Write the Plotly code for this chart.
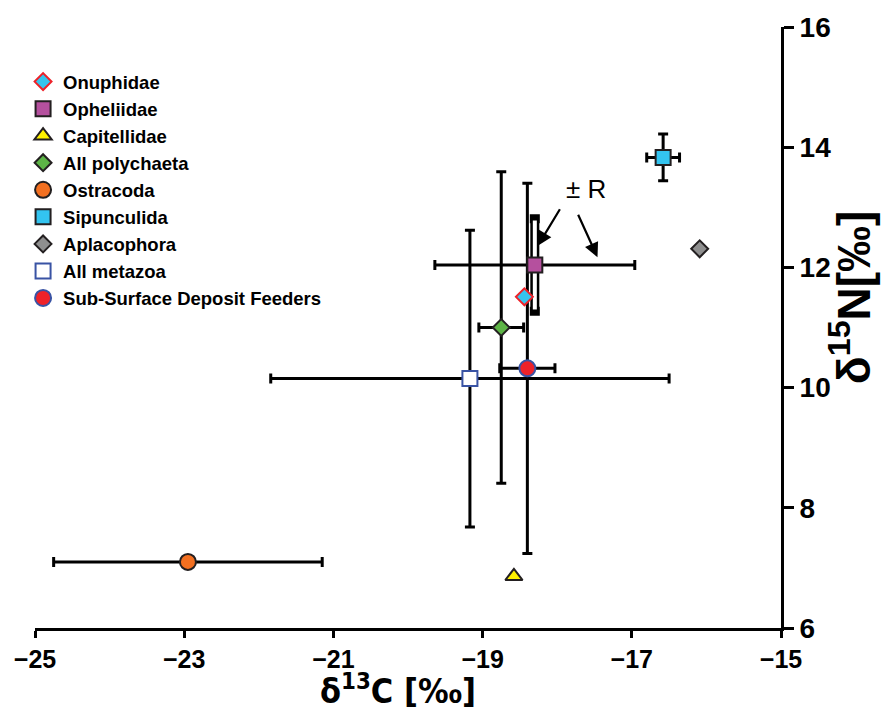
import plotly.graph_objects as go

# ---- data ----
names = ["Onuphidae", "Opheliidae", "Capitellidae", "All polychaeta", "Ostracoda",
         "Sipunculida", "Aplacophora", "All metazoa", "Sub-Surface Deposit Feeders"]
d13C = [-18.44, -18.30, -18.58, -18.75, -22.95, -16.58, -16.09, -19.17, -18.40]
d15N = [11.51, 12.04, 6.86, 11.00, 7.10, 13.83, 12.31, 10.15, 10.32]
errC = [None, 1.34, None, 0.30, 1.80, 0.22, None, 2.67, 0.37]
errN = [None, 0.77, None, 2.59, None, 0.39, None, 2.47, 3.08]

symbols = ["diamond", "square", "triangle-up", "diamond", "circle",
           "square", "diamond", "square", "circle"]
fills = ["#35C5EE", "#B5509E", "#FFF200", "#5DB446", "#F37021",
         "#33C4F0", "#8F8F8F", "#FFFFFF", "#EE2229"]
edges = ["#EE2229", "#231F20", "#231F20", "#231F20", "#231F20",
         "#231F20", "#231F20", "#3953A4", "#3953A4"]
sizes = [13, 15, 15, 13, 16, 15, 13, 15, 16]

# annotation "± R"
r_label = "± R"
r_text_pos = (-17.62, 13.30)
r_arrow_tips = [(-18.26, 12.36), (-17.46, 12.17)]

x_title = "δ<sup>13</sup>C [‰]"
y_title = "δ<sup>15</sup>N[‰]"

# drawing order (later = on top); legend order kept by legendrank
draw_order = [7, 3, 8, 4, 5, 1, 0, 2, 6]

font_main = "Arial, Liberation Sans, sans-serif"
font_narrow = "Liberation Sans Narrow, Arial Narrow, DejaVu Sans Condensed, sans-serif"

fig = go.Figure()

for i in draw_order:
    ex = dict(type="data", array=[errC[i]], visible=errC[i] is not None,
              color="black", thickness=3, width=5)
    ey = dict(type="data", array=[errN[i]], visible=errN[i] is not None,
              color="black", thickness=3, width=5)
    if names[i] == "Opheliidae":
        # hollow vertical range bar (outlined)
        fig.add_trace(go.Scatter(x=[d13C[i]], y=[d15N[i]], mode="markers",
                                 marker=dict(size=1, opacity=0), showlegend=False,
                                 hoverinfo="skip",
                                 error_y=dict(type="data", array=[errN[i]], color="black",
                                              thickness=9, width=5)))
        fig.add_trace(go.Scatter(x=[d13C[i]], y=[d15N[i]], mode="markers",
                                 marker=dict(size=1, opacity=0), showlegend=False,
                                 hoverinfo="skip",
                                 error_y=dict(type="data", array=[errN[i] - 0.03], color="white",
                                              thickness=4, width=0)))
        ey = dict(visible=False)
    fig.add_trace(go.Scatter(
        x=[d13C[i]], y=[d15N[i]], mode="markers", name=names[i],
        legendrank=i + 1,
        marker=dict(symbol=symbols[i], size=sizes[i], color=fills[i],
                    line=dict(color=edges[i], width=2)),
        error_x=ex, error_y=ey,
    ))

fig.add_annotation(x=r_text_pos[0], y=r_text_pos[1], text=r_label, showarrow=False,
                   font=dict(family=font_main, size=26, color="black"))
offsets = [(23, -38), (-20, -44)]
for (tx, ty), (ax, ay) in zip(r_arrow_tips, offsets):
    fig.add_annotation(x=tx, y=ty, ax=ax, ay=ay, text="", showarrow=True,
                       arrowhead=2, arrowsize=1.3, arrowwidth=2.2, arrowcolor="black")

# axis titles placed as text beside the axes
fig.add_annotation(x=1.135, y=0.55, xref="paper", yref="paper", text=y_title,
                   showarrow=False, textangle=-90,
                   font=dict(family=font_main, size=46, color="black", weight="bold"))
fig.add_annotation(x=0.486, y=-0.142, xref="paper", yref="paper", text=x_title,
                   showarrow=False, yanchor="bottom",
                   font=dict(family=font_narrow, size=34, color="black", weight="bold"))

fig.update_layout(
    width=881, height=719,
    margin=dict(l=35, r=100, t=16, b=91),
    paper_bgcolor="white", plot_bgcolor="white",
    showlegend=True,
    legend=dict(x=-0.016, y=0.94, xanchor="left", yanchor="top",
                bgcolor="rgba(0,0,0,0)", borderwidth=0,
                font=dict(family=font_main, size=18.5, color="black", weight="bold"),
                tracegroupgap=0, itemsizing="trace"),
    xaxis=dict(range=[-25, -15], tick0=-25, dtick=2, showgrid=False, zeroline=False,
               showline=True, linecolor="black", linewidth=3,
               ticks="outside", ticklen=7, tickwidth=2.5, tickcolor="black",
               tickfont=dict(family=font_main, size=25, color="black", weight="bold")),
    yaxis=dict(range=[6, 16], tick0=6, dtick=2, side="right", showgrid=False, zeroline=False,
               showline=True, linecolor="black", linewidth=3,
               ticks="outside", ticklen=10, tickwidth=2.5, tickcolor="black",
               tickfont=dict(family=font_main, size=28, color="black", weight="bold")),
)

fig.write_html("out.html")
